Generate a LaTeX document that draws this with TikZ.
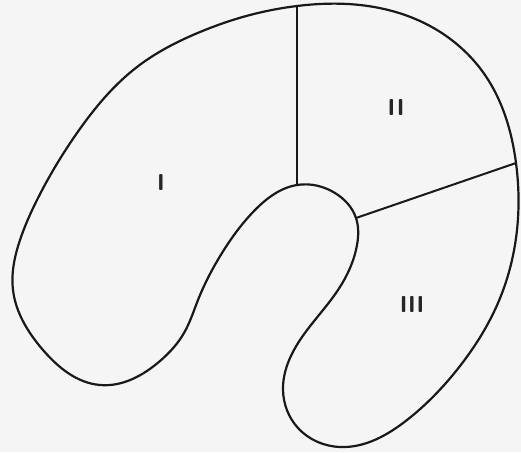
\documentclass[tikz,border=0pt]{standalone}
\usetikzlibrary{hobby}
\begin{document}
\begin{tikzpicture}[x=1pt,y=-1pt,
  outline/.style={line width=2.2pt,draw=black!90,line join=round},
  divider/.style={line width=2pt,draw=black!90,line cap=round},
  roman/.style={font=\sffamily\bfseries\fontsize{23}{23}\selectfont,text=black!85,inner sep=0pt}]
\fill[black!4] (0,0) rectangle (521,452);
\useasboundingbox (0,0) rectangle (521,452);
% junction points
\coordinate (top) at (297,6);
\coordinate (hub) at (297,185);
\coordinate (inr) at (356,218);
\coordinate (outr) at (516,163);
% outline of the region
\draw[outline,use Hobby shortcut,closed=true]
  (top) .. (360,5) .. (430,26) .. (485,75) .. (outr) .. (517,230)
  .. (498,303) .. (460,366) .. (407,420) .. (340,447) .. (298,428)
  .. (283,390) .. (300,340) .. (338,290) .. (357,245) .. (inr)
  .. (335,193) .. (hub) .. (255,210) .. (222,253) .. (198,300)
  .. (184,333) .. (160,361) .. (100,385) .. (43,350) .. (13,290)
  .. (20,240) .. (37,200) .. (77,133) .. (137,67) .. (200,32) .. (250,15);
% dividing lines
\draw[divider] (top) -- (hub);
\draw[divider] (inr) -- (outr);
% labels
\node[roman] (lI) at (161,183) {I};
\node[roman] (lII) at (396,108) {I\kern1.5pt I};
\node[roman] (lIII) at (412,305) {III};
\end{tikzpicture}
\end{document}
